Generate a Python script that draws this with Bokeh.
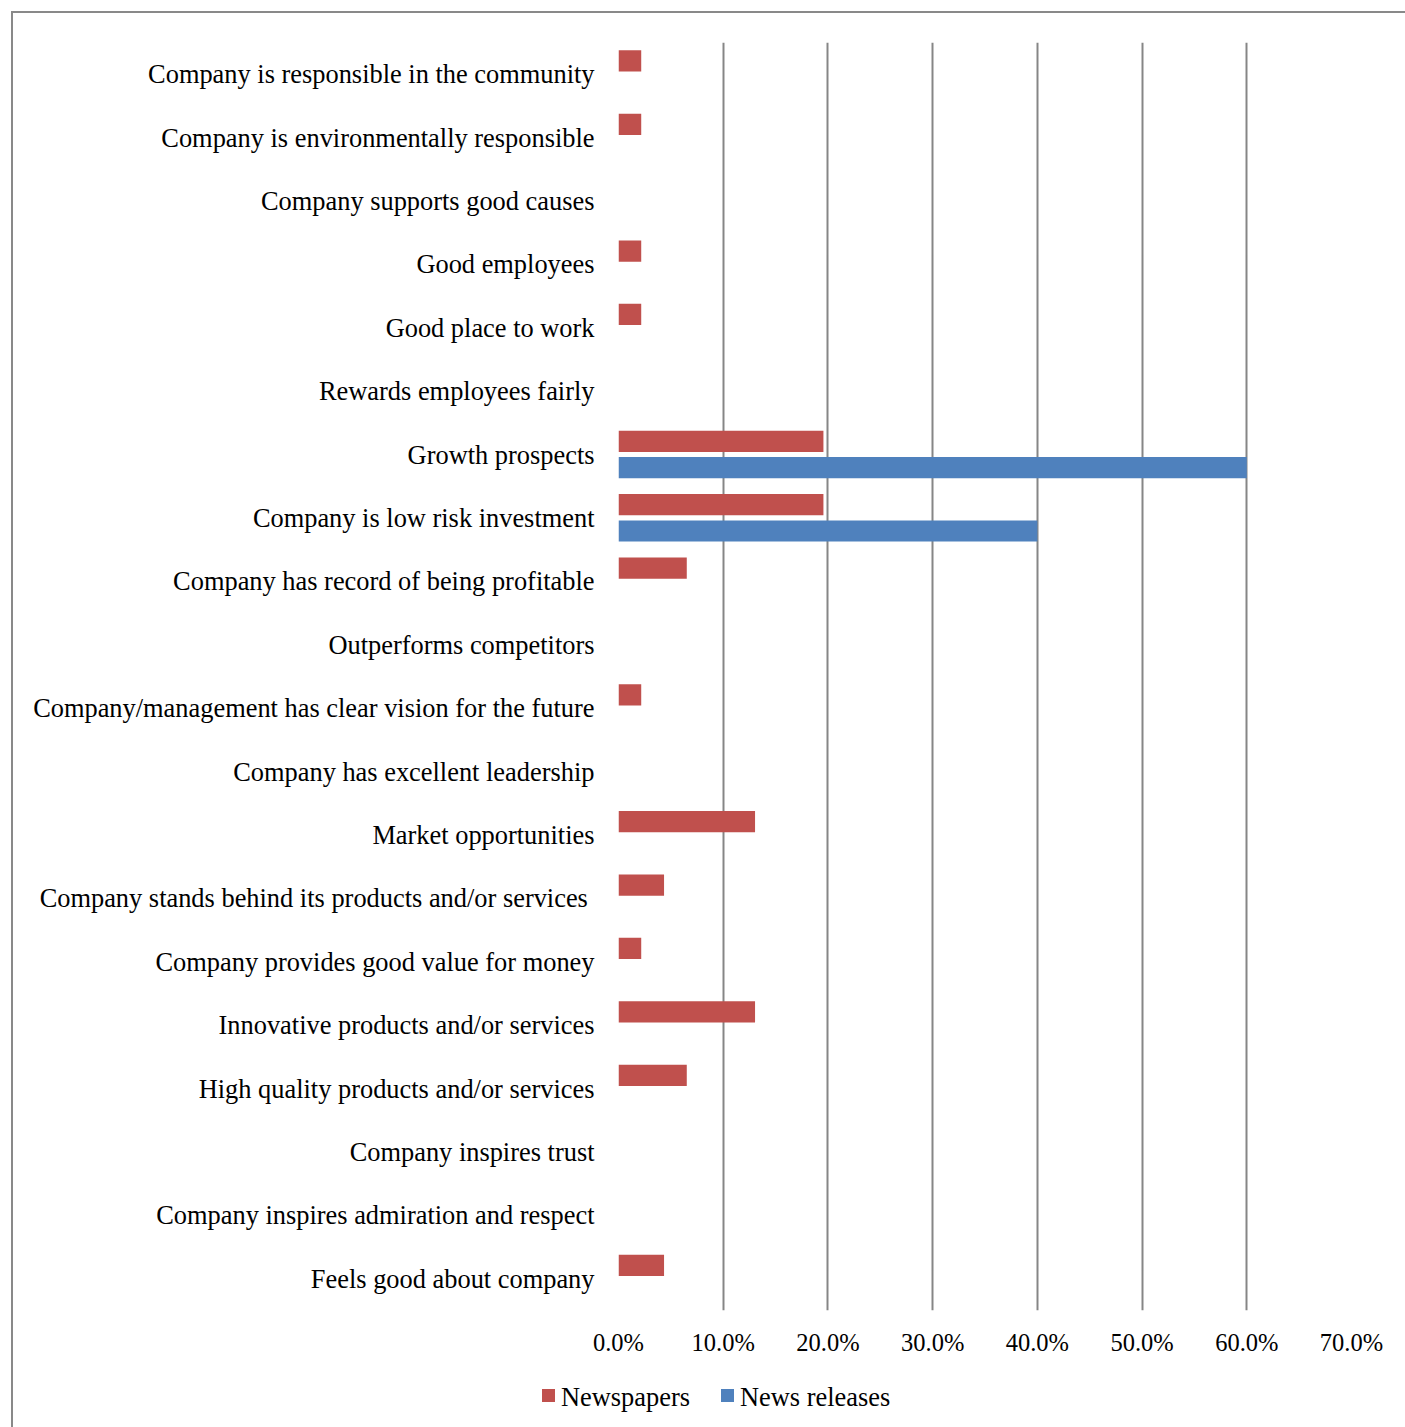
from bokeh.plotting import figure
from bokeh.layouts import column
from bokeh.models import (FactorRange, NumeralTickFormatter, FixedTicker, Div,
                          ColumnDataSource)
from bokeh.transform import dodge
from bokeh.embed import file_html
from bokeh.resources import INLINE

categories = [
    "Company is responsible in the community",
    "Company is environmentally responsible",
    "Company supports good causes",
    "Good employees",
    "Good place to work",
    "Rewards employees fairly",
    "Growth prospects",
    "Company is low risk investment",
    "Company has record of being profitable",
    "Outperforms competitors",
    "Company/management has clear vision for the future",
    "Company has excellent leadership",
    "Market opportunities",
    "Company stands behind its products and/or services ",
    "Company provides good value for money",
    "Innovative products and/or services",
    "High quality products and/or services",
    "Company inspires trust",
    "Company inspires admiration and respect",
    "Feels good about company",
]
newspapers = [0.0217, 0.0217, 0.0, 0.0217, 0.0217, 0.0, 0.1957, 0.1957, 0.0652, 0.0,
              0.0217, 0.0, 0.1304, 0.0435, 0.0217, 0.1304, 0.0652, 0.0, 0.0, 0.0435]
news_releases = [0.0, 0.0, 0.0, 0.0, 0.0, 0.0, 0.60, 0.40, 0.0, 0.0,
                 0.0, 0.0, 0.0, 0.0, 0.0, 0.0, 0.0, 0.0, 0.0, 0.0]
x_ticks = [0.0, 0.1, 0.2, 0.3, 0.4, 0.5, 0.6, 0.7]
series_names = ["Newspapers", "News releases"]
series_colors = ["#C0504D", "#4F81BD"]

FONT = "Liberation Serif"

src = ColumnDataSource(dict(cat=categories, news=newspapers, rel=news_releases))

p = figure(
    y_range=FactorRange(factors=list(reversed(categories))),
    x_range=(0, 0.7),
    frame_width=733, frame_height=1268,
    min_border_left=605, min_border_top=29, min_border_right=53, min_border_bottom=60,
    output_backend="svg", toolbar_location=None,
)
p.outline_line_color = None
p.background_fill_color = "white"
p.border_fill_color = "white"

p.hbar(y=dodge("cat", 0.21, range=p.y_range), right="news", left=0, height=0.335,
       source=src, fill_color=series_colors[0], line_color=None)
p.hbar(y=dodge("cat", -0.205, range=p.y_range), right="rel", left=0, height=0.335,
       source=src, fill_color=series_colors[1], line_color=None)

p.xaxis.ticker = FixedTicker(ticks=x_ticks)
p.xaxis.formatter = NumeralTickFormatter(format="0.0%")
for ax in (p.xaxis[0], p.yaxis[0]):
    ax.axis_line_color = None
    ax.major_tick_line_color = None
    ax.minor_tick_line_color = None
    ax.major_tick_out = 0
    ax.major_tick_in = 0
    ax.major_label_text_font = FONT
    ax.major_label_text_color = "black"
p.xaxis.major_label_text_font_size = "24.5px"
p.yaxis.major_label_text_font_size = "26.4px"
p.xaxis.major_label_standoff = 18
p.yaxis.major_label_standoff = 24

p.xgrid.ticker = FixedTicker(ticks=x_ticks)
p.xgrid.grid_line_color = "#868686"
p.xgrid.grid_line_width = 2
p.ygrid.grid_line_color = None

# legend strip below the chart (HTML text, real text)
item_lefts = [524, 703]
parts = []
for name, color, left in zip(series_names, series_colors, item_lefts):
    parts.append(
        f'<span style="position:absolute;left:{left}px;top:14px;width:13px;height:13px;'
        f'background:{color};"></span>'
        f'<span style="position:absolute;left:{left + 19}px;top:9px;line-height:1;'
        f'white-space:nowrap;">{name}</span>'
    )
legend_html = (
    f'<div style="position:relative;width:1391px;height:56px;font-family:\'{FONT}\';'
    f'font-size:26.4px;color:black;">' + "".join(parts) + "</div>"
)
legend_div = Div(text=legend_html, width=1391, height=56)

layout = column(p, legend_div, spacing=0)
layout.styles = {"margin-left": "11px", "margin-top": "11px",
                 "border-left": "2px solid #898989", "border-top": "2px solid #898989"}

open("out.html", "w").write(file_html(layout, INLINE))
